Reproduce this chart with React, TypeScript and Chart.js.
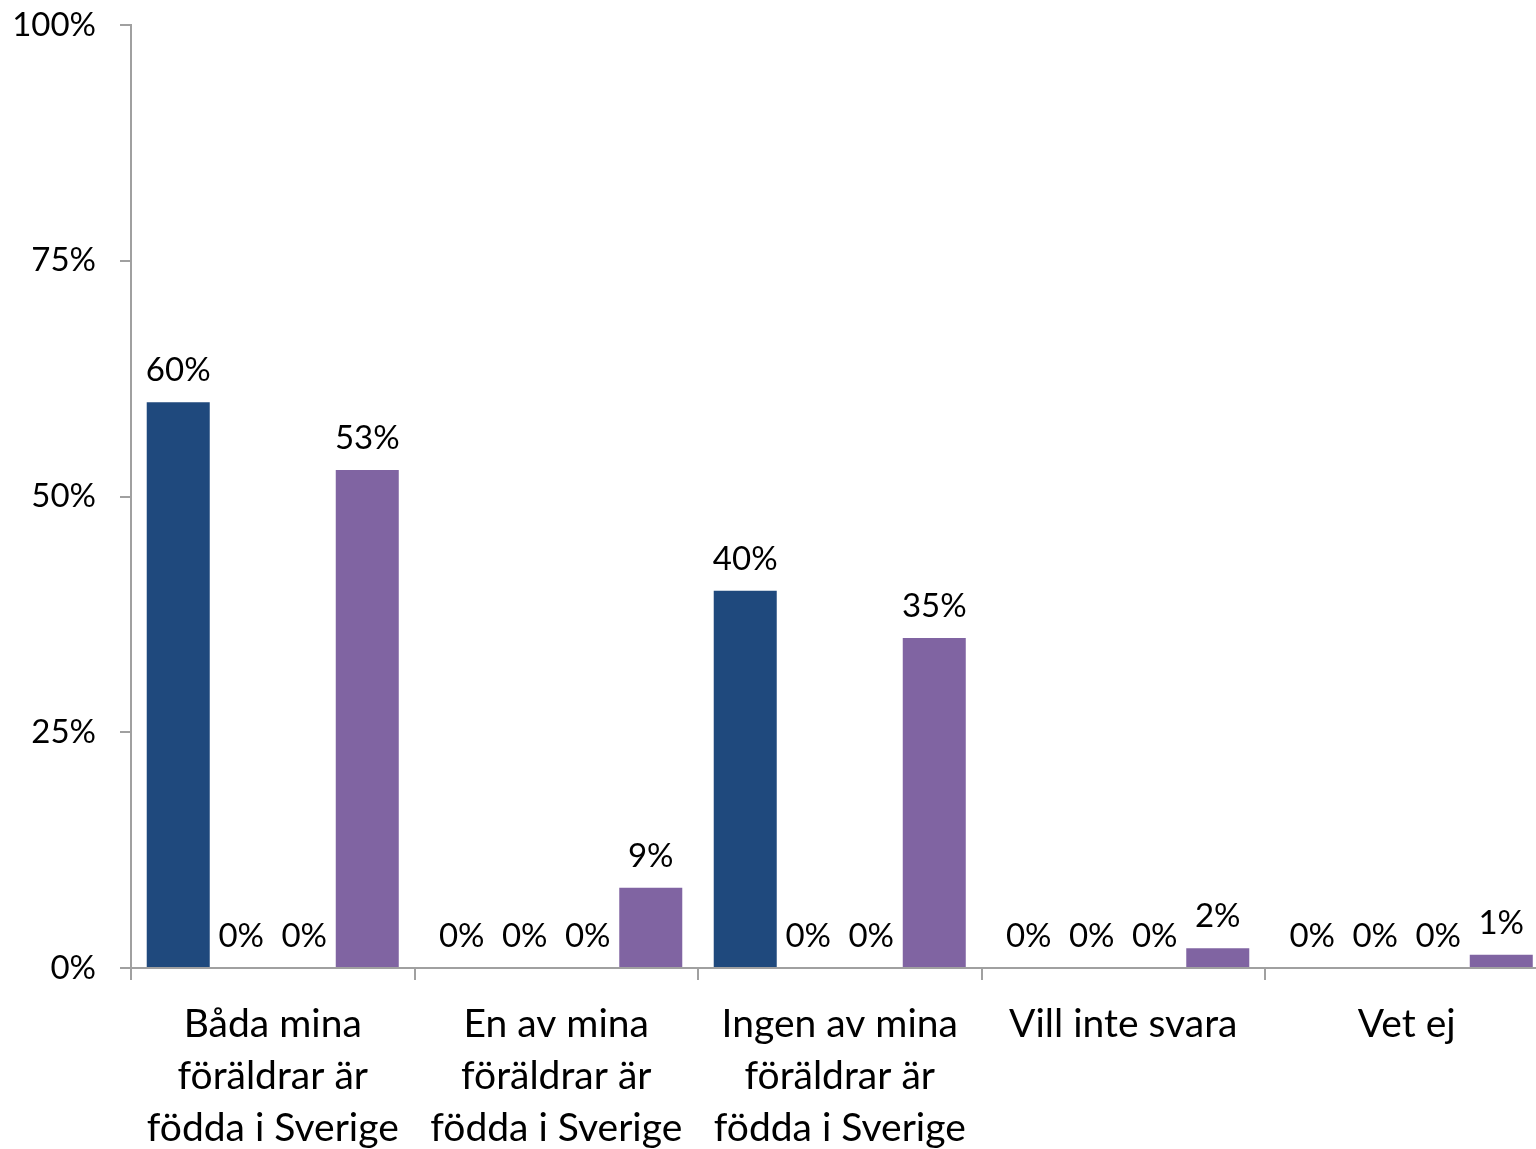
import React, { useEffect, useRef } from "react";
import { Chart, registerables } from "chart.js";

Chart.register(...registerables);

const categories: string[][] = [
  ["Båda mina", "föräldrar är", "födda i Sverige"],
  ["En av mina", "föräldrar är", "födda i Sverige"],
  ["Ingen av mina", "föräldrar är", "födda i Sverige"],
  ["Vill inte svara"],
  ["Vet ej"],
];

const series1: number[] = [60, 0, 40, 0, 0];
const series2: number[] = [0, 0, 0, 0, 0];
const series3: number[] = [0, 0, 0, 0, 0];
const series4: number[] = [52.8, 8.5, 35, 2.1, 1.4];

const yTicks: number[] = [0, 25, 50, 75, 100];

const FONT = "Lato, 'Open Sans', sans-serif";

const labelPlugin = {
  id: "valueLabels",
  afterDatasetsDraw(chart: any) {
    const ctx = chart.ctx;
    ctx.save();
    ctx.font = `33px ${FONT}`;
    ctx.fillStyle = "#000000";
    ctx.textAlign = "center";
    ctx.textBaseline = "alphabetic";
    chart.data.datasets.forEach((ds: any, i: number) => {
      const meta = chart.getDatasetMeta(i);
      meta.data.forEach((el: any, j: number) => {
        const v = ds.data[j] as number;
        ctx.fillText(`${Math.round(v)}%`, el.x, el.y - 21);
      });
    });
    ctx.restore();
  },
};

export default function App() {
  const ref = useRef<HTMLCanvasElement | null>(null);

  useEffect(() => {
    if (!ref.current) return;
    const chart = new Chart(ref.current, {
      type: "bar",
      data: {
        labels: categories,
        datasets: [
          { label: "S1", data: series1, backgroundColor: "#1F497D" },
          { label: "S2", data: series2, backgroundColor: "#C0504D" },
          { label: "S3", data: series3, backgroundColor: "#9BBB59" },
          { label: "S4", data: series4, backgroundColor: "#8064A2" },
        ],
      },
      options: {
        responsive: false,
        animation: false,
        devicePixelRatio: 1,
        layout: { padding: { left: 0, top: 25, right: 11.5, bottom: 0 } },
        plugins: {
          legend: { display: false },
          tooltip: { enabled: false },
        },
        datasets: {
          bar: { categoryPercentage: 0.889, barPercentage: 1, borderWidth: 0 },
        },
        scales: {
          x: {
            offset: true,
            grid: {
              offset: true,
              display: true,
              drawOnChartArea: false,
              drawTicks: true,
              tickLength: 12,
              color: "#A0A0A0",
              lineWidth: 2,
            },
            border: { display: true, color: "#A0A0A0", width: 2 },
            ticks: {
              autoSkip: false,
              maxRotation: 0,
              minRotation: 0,
              padding: 18,
              color: "#000000",
              font: { family: FONT, size: 39, lineHeight: 52 / 39 },
            },
            afterFit: (scale: any) => {
              scale.height = 181;
            },
          },
          y: {
            min: 0,
            max: 100,
            afterBuildTicks: (scale: any) => {
              scale.ticks = yTicks.map((v) => ({ value: v }));
            },
            grid: {
              display: true,
              drawOnChartArea: false,
              drawTicks: true,
              tickLength: 11,
              color: "#A0A0A0",
              lineWidth: 2,
            },
            border: { display: true, color: "#A0A0A0", width: 2 },
            ticks: {
              padding: 24,
              color: "#000000",
              font: { family: FONT, size: 33 },
              callback: (v: any) => `${v}%`,
            },
            afterFit: (scale: any) => {
              scale.width = 131;
              scale.paddingTop = 0;
              scale.paddingBottom = 0;
            },
          },
        },
      },
      plugins: [labelPlugin],
    });
    return () => chart.destroy();
  }, []);

  return (
    <div
      style={{
        position: "fixed",
        left: 0,
        top: 0,
        width: 1536,
        height: 1149,
        overflow: "hidden",
        background: "#ffffff",
      }}
    >
      <canvas ref={ref} width={1560} height={1149} style={{ display: "block" }} />
    </div>
  );
}
